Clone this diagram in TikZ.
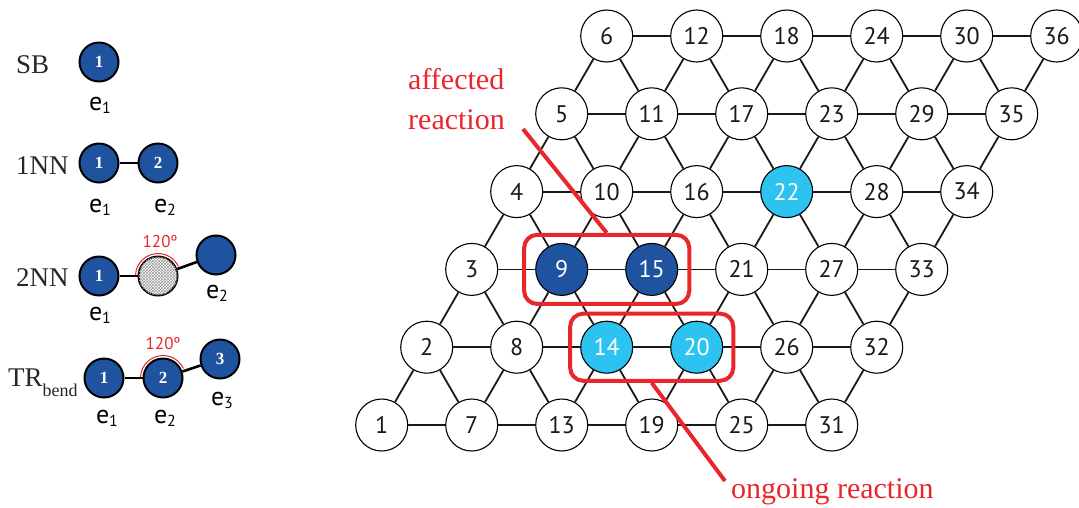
\documentclass[tikz,border=0pt]{standalone}
\usepackage{fontspec}
\setmainfont{Liberation Serif}
\newfontfamily\sansf{PT Sans}
\usetikzlibrary{patterns,fit}
\definecolor{dblue}{HTML}{1F53A0}
\definecolor{lblue}{HTML}{2CC3F1}
\definecolor{myred}{HTML}{E8262B}
\newcommand{\elab}[1]{{\sansf\fontsize{26}{26}\selectfont e\raisebox{-3pt}{\fontsize{16}{16}\selectfont #1}}}
\tikzset{
  lat/.style={circle,draw=black,line width=1.1pt,fill=white,minimum size=52pt,inner sep=0pt,
    font=\sansf\fontsize{24}{24}\selectfont,text=black!90},
  darknode/.style={fill=dblue,text=white},
  lightnode/.style={fill=lblue,text=white},
  lat9/.style={darknode}, lat15/.style={darknode},
  lat14/.style={lightnode}, lat20/.style={lightnode}, lat22/.style={lightnode},
  edge/.style={line width=1.8pt,black!90},
  redbox/.style={draw=myred,line width=4pt,rounded corners=13pt,inner sep=0pt},
  redline/.style={draw=myred,line width=4pt},
  redtext/.style={text=myred,font=\fontsize{30}{40}\selectfont,inner sep=0pt},
  leg/.style={circle,draw=black,line width=2pt,fill=dblue,minimum size=39pt,inner sep=0pt,
    text=white,font=\bfseries\fontsize{17}{17}\selectfont},
  legline/.style={line width=2.6pt,black},
  lbl/.style={inner sep=0pt,anchor=base},
  title/.style={inner sep=0pt,anchor=base west,font=\fontsize{27}{27}\selectfont,text=black!85},
  angtext/.style={inner sep=0pt,text=myred,font=\sansf\fontsize{17}{17}\selectfont},
  arcline/.style={draw=myred,line width=1pt}
}
\begin{document}
\begin{tikzpicture}[x=1pt,y=-1pt]
\useasboundingbox (0,0) rectangle (1079,507);
% lattice nodes
\foreach \k in {0,...,5}{\foreach \r in {0,...,5}{
  \pgfmathtruncatemacro\n{6*\k+\r+1}
  \node[lat,lat\n/.try] (n\n) at ({381.7+90*\k+45*\r},{425-77.8*\r}) {\n};
}}
% lattice edges
\foreach \k in {0,...,5}{\foreach \r in {0,...,5}{
  \pgfmathtruncatemacro\n{6*\k+\r+1}
  \pgfmathtruncatemacro\h{\n+6}
  \pgfmathtruncatemacro\u{\n+1}
  \pgfmathtruncatemacro\l{\n-5}
  \ifnum\k<5 \draw[edge] (n\n)--(n\h); \fi
  \ifnum\r<5 \draw[edge] (n\n)--(n\u); \ifnum\k>0 \draw[edge] (n\n)--(n\l); \fi \fi
}}
% red boxes
\node[redbox,fit=(n9)(n15),inner xsep=11pt,inner ysep=8pt] (box1) {};
\node[redbox,fit=(n14)(n20),inner xsep=10pt,inner ysep=7pt] (box2) {};
\coordinate (aff) at (523,129);
\coordinate (ong) at (725,481);
\draw[redline] (aff) -- (box1.north);
\draw[redline] (box2.south) -- (ong);
\node[redtext,anchor=north west,align=left] (afftext) at (408,68) {affected\\reaction};
\node[redtext,anchor=base west] (ongtext) at (731,498) {ongoing reaction};

% legend: SB
\node[title] (tsb) at (16,73) {SB};
\node[leg] (sb1) at (99,62) {1};
\node[lbl] (sbe1) at (100,110) {\elab{1}};
% 1NN
\node[title] (tnn1) at (16,174) {1NN};
\node[leg] (a1) at (99,163) {1};
\node[leg] (a2) at (158,163) {2};
\draw[legline] (a1) -- (a2);
\node[lbl] (ae1) at (100,212) {\elab{1}};
\node[lbl] (ae2) at (165,212) {\elab{2}};
% 2NN
\node[title] (tnn2) at (16,286) {2NN};
\node[leg] (b1) at (99,276) {1};
\node[leg,fill=white,postaction={pattern=crosshatch,pattern color=gray!80}] (bh) at (158,276) {};
\node[leg] (b2) at (216,255) {};
\draw[legline] (b1) -- (bh);
\draw[legline] (bh) -- (b2);
\draw[arcline] ([shift={(182:22.5)}]bh.center) arc[start angle=182,end angle=335,radius=22.5];
\node[angtext] (ang1) at (160,242) {120º};
\node[lbl] (be1) at (100,320) {\elab{1}};
\node[lbl] (be2) at (217,298) {\elab{2}};
% TR bend
\node[title] (ttr) at (8,386) {TR\raisebox{-10pt}{\fontsize{18}{18}\selectfont bend}};
\node[leg] (c1) at (104,378) {1};
\node[leg] (c2) at (163,378) {2};
\node[leg] (c3) at (220,359) {3};
\draw[legline] (c1) -- (c2);
\draw[legline] (c2) -- (c3);
\draw[arcline] ([shift={(182:22.5)}]c2.center) arc[start angle=182,end angle=335,radius=22.5];
\node[angtext] (ang2) at (163,344) {120º};
\node[lbl] (ce1) at (107,423) {\elab{1}};
\node[lbl] (ce2) at (165,423) {\elab{2}};
\node[lbl] (ce3) at (222,405) {\elab{3}};
\end{tikzpicture}
\end{document}
